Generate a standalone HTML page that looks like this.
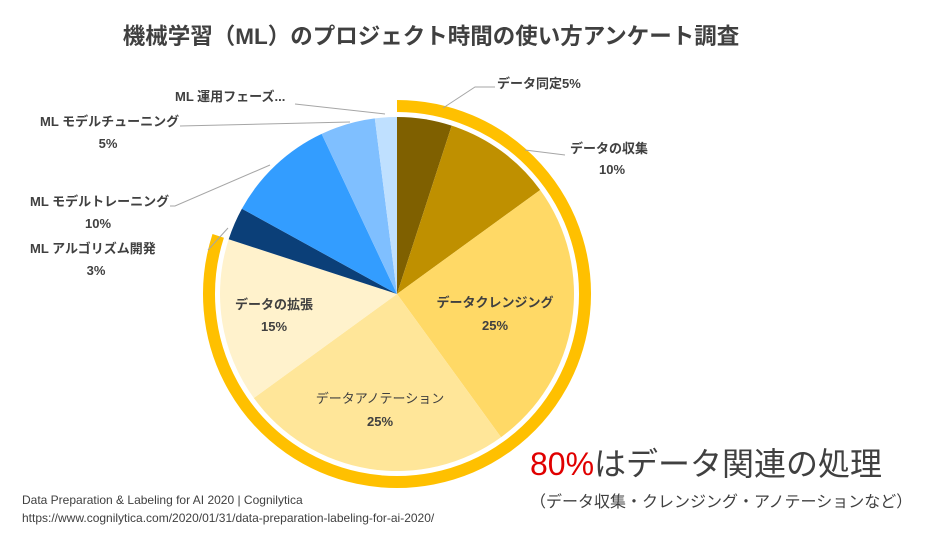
<!DOCTYPE html>
<html><head><meta charset="utf-8"><style>
body{margin:0;background:#fff;}
svg{display:block;font-family:"Liberation Sans","Noto Sans CJK JP",sans-serif;}
.lb{font-size:13px;font-weight:bold;fill:#404040;}
</style></head><body>
<svg width="929" height="548" viewBox="0 0 929 548">
<text x="431" y="44" text-anchor="middle" font-size="22.5" font-weight="bold" fill="#404040">機械学習（ML）のプロジェクト時間の使い方アンケート調査</text>
<g id="slices"></g>
<g id="ring"></g>
<g id="leaders" stroke="#a6a6a6" stroke-width="1" fill="none">
<polyline points="443,108 475,87 495,87"/>
<polyline points="525,150 565,155"/>
<polyline points="385,114 295,104"/>
<polyline points="350,122 180,126"/>
<polyline points="270,165 175,206 170,206"/>
<polyline points="228,228 208,250"/>
</g>
<g class="lb">
<text x="497" y="88">データ同定5%</text>
<text x="570" y="153">データの収集</text>
<text x="612" y="174" text-anchor="middle">10%</text>
<text x="175" y="101">ML 運用フェーズ...</text>
<text x="40" y="126">ML モデルチューニング</text>
<text x="108" y="148" text-anchor="middle">5%</text>
<text x="30" y="206">ML モデルトレーニング</text>
<text x="98" y="228" text-anchor="middle">10%</text>
<text x="30" y="253">ML アルゴリズム開発</text>
<text x="96" y="275" text-anchor="middle">3%</text>
<text x="495" y="307" text-anchor="middle">データクレンジング</text>
<text x="495" y="330" text-anchor="middle">25%</text>
<text x="380" y="403" text-anchor="middle" font-weight="normal">データアノテーション</text>
<text x="380" y="426" text-anchor="middle">25%</text>
<text x="274" y="309" text-anchor="middle">データの拡張</text>
<text x="274" y="331" text-anchor="middle">15%</text>
</g>
<text x="530" y="475" font-size="32" fill="#404040"><tspan fill="#e00000">80%</tspan>はデータ関連の処理</text>
<text x="530" y="507" font-size="16" fill="#404040">（データ収集・クレンジング・アノテーションなど）</text>
<text x="22" y="504" font-size="12" fill="#404040">Data Preparation &amp; Labeling for AI 2020 | Cognilytica</text>
<text x="22" y="522" font-size="12" fill="#404040">https://www.cognilytica.com/2020/01/31/data-preparation-labeling-for-ai-2020/</text>
</svg>
<script>
const categories=["データ同定","データの収集","データクレンジング","データアノテーション","データの拡張","ML アルゴリズム開発","ML モデルトレーニング","ML モデルチューニング","ML 運用フェーズ"];
const values=[5,10,25,25,15,3,10,5,2];
const colors=["#7f6000","#bf9000","#ffd966","#ffe699","#fff2cc","#0b3f78","#339dff","#7fbfff","#bfe0ff"];
const highlightCount=5;
const cx=397,cy=294,r=177,rr=188;
const NS="http://www.w3.org/2000/svg";
const total=values.reduce((a,b)=>a+b,0);
function pt(a,rad){return [cx+rad*Math.sin(a),cy-rad*Math.cos(a)];}
const g=document.getElementById('slices');
let a0=0;
values.forEach((v,i)=>{
 const a1=a0+v/total*2*Math.PI;
 const p0=pt(a0,r),p1=pt(a1,r);
 const large=(a1-a0)>Math.PI?1:0;
 const p=document.createElementNS(NS,'path');
 p.setAttribute('d',`M${cx},${cy}L${p0[0]},${p0[1]}A${r},${r} 0 ${large} 1 ${p1[0]},${p1[1]}Z`);
 p.setAttribute('fill',colors[i]);
 
 
 g.appendChild(p);
 a0=a1;
});
let hs=0;for(let i=0;i<highlightCount;i++)hs+=values[i];
const ae=hs/total*2*Math.PI;
const q0=pt(0,rr),q1=pt(ae,rr);
const ring=document.createElementNS(NS,'path');
ring.setAttribute('d',`M${q0[0]},${q0[1]}A${rr},${rr} 0 ${ae>Math.PI?1:0} 1 ${q1[0]},${q1[1]}`);
ring.setAttribute('fill','none');ring.setAttribute('stroke','#ffc000');ring.setAttribute('stroke-width','12');


document.getElementById('ring').appendChild(ring);
</script>
</body></html>
